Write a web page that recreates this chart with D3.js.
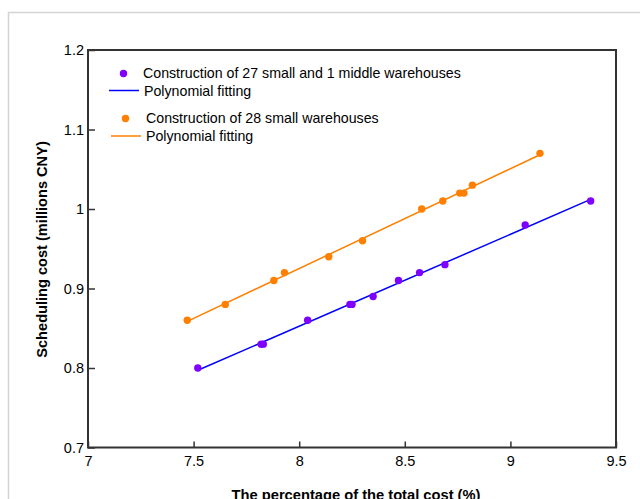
<!DOCTYPE html>
<html>
<head>
<meta charset="utf-8">
<script src="https://cdn.jsdelivr.net/npm/d3@7"></script>
<style>
body { margin: 0; background: #fff; }
svg { font-family: "Liberation Sans", Arial, sans-serif; }
</style>
</head>
<body>
<svg id="chart" width="640" height="499"></svg>
<script>
// data
mixed_x = [7.52, 7.82, 7.83, 8.04, 8.24, 8.25, 8.35, 8.47, 8.57, 8.69, 9.07, 9.38];
mixed_y = [0.80, 0.83, 0.83, 0.86, 0.88, 0.88, 0.89, 0.91, 0.92, 0.93, 0.98, 1.01];
small_x = [7.47, 7.65, 7.88, 7.93, 8.14, 8.30, 8.58, 8.68, 8.76, 8.78, 8.82, 9.14];
small_y = [0.86, 0.88, 0.91, 0.92, 0.94, 0.96, 1.00, 1.01, 1.02, 1.02, 1.03, 1.07];
x_ticks = [7, 7.5, 8, 8.5, 9, 9.5];
y_ticks = [0.7, 0.8, 0.9, 1, 1.1, 1.2];
legend_labels = ['Construction of 27 small and 1 middle warehouses', 'Polynomial fitting',
                 'Construction of 28 small warehouses', 'Polynomial fitting'];

svg = d3.select('#chart');

// outer figure frame
svg.append('path')
    .attr('d', 'M8.5,499 V12.5 H640')
    .attr('fill', 'none')
    .attr('stroke', '#d4d4d4')
    .attr('stroke-width', 1.5);

left = 88; right = 616; top_ = 50; bottom = 447.5;

x = d3.scaleLinear().domain([7, 9.5]).range([left, right]);
y = d3.scaleLinear().domain([0.7, 1.2]).range([bottom, top_]);

// least squares line through each series
function fit(xs, ys){
    n = xs.length;
    mx = d3.mean(xs); my = d3.mean(ys);
    sxy = 0; sxx = 0;
    for(i=0;i<n;i++){
        sxy += (xs[i]-mx)*(ys[i]-my);
        sxx += (xs[i]-mx)*(xs[i]-mx);
    }
    b = sxy/sxx;
    a = my - b*mx;
    x0 = d3.min(xs); x1 = d3.max(xs);
    return [[x0, a+b*x0], [x1, a+b*x1]];
}

xAxis = svg.append('g')
    .attr('transform', `translate(0,${bottom})`)
    .call(d3.axisBottom(x).tickValues(x_ticks).tickFormat(d3.format('')).tickSizeInner(-6).tickSizeOuter(0).tickPadding(8));
yAxis = svg.append('g')
    .attr('transform', `translate(${left},0)`)
    .call(d3.axisLeft(y).tickValues(y_ticks).tickFormat(d3.format('')).tickSizeInner(-7).tickSizeOuter(0).tickPadding(4));

[xAxis, yAxis].forEach(function(ax){
    ax.select('.domain').remove();
    ax.selectAll('line').attr('stroke', '#333').attr('stroke-width', 1.5);
    ax.selectAll('text').attr('font-size', 14.5).attr('fill', '#000')
        .attr('font-family', '"Liberation Sans", Arial, sans-serif');
});

// plot box
svg.append('rect')
    .attr('x', left).attr('y', top_)
    .attr('width', right-left).attr('height', bottom-top_)
    .attr('fill', 'none')
    .attr('stroke', '#333')
    .attr('stroke-width', 2);

line = d3.line().x(d => x(d[0])).y(d => y(d[1]));

svg.append('path').datum(fit(mixed_x, mixed_y))
    .attr('d', line).attr('fill', 'none').attr('stroke', '#0000ff').attr('stroke-width', 1.5);
svg.append('path').datum(fit(small_x, small_y))
    .attr('d', line).attr('fill', 'none').attr('stroke', '#ff8000').attr('stroke-width', 1.5);

svg.append('g').selectAll('circle').data(d3.zip(mixed_x, mixed_y)).join('circle')
    .attr('cx', d => x(d[0])).attr('cy', d => y(d[1])).attr('r', 3.7).attr('fill', '#8000ff');
svg.append('g').selectAll('circle').data(d3.zip(small_x, small_y)).join('circle')
    .attr('cx', d => x(d[0])).attr('cy', d => y(d[1])).attr('r', 3.7).attr('fill', '#ff8000');

// legend
legend = svg.append('g').attr('font-size', 14.2);
legend.append('circle').attr('cx', 123.5).attr('cy', 73.5).attr('r', 3.7).attr('fill', '#8000ff');
legend.append('line').attr('x1', 109).attr('x2', 139).attr('y1', 90.5).attr('y2', 90.5)
    .attr('stroke', '#0000ff').attr('stroke-width', 1.5);
legend.append('circle').attr('cx', 125.5).attr('cy', 118.5).attr('r', 3.7).attr('fill', '#ff8000');
legend.append('line').attr('x1', 111).attr('x2', 141).attr('y1', 136).attr('y2', 136)
    .attr('stroke', '#ff8000').attr('stroke-width', 1.5);
lx = [143, 144, 146, 146];
ly = [73.5, 91, 118.5, 136.5];
legend_labels.forEach(function(t, idx){
    legend.append('text').attr('x', lx[idx]).attr('y', ly[idx]).attr('dy', '0.35em').text(t);
});

// axis titles
svg.append('text')
    .attr('x', 356).attr('y', 500)
    .attr('text-anchor', 'middle').attr('font-size', 14.7).attr('font-weight', 'bold')
    .text('The percentage of the total cost (%)');
svg.append('text')
    .attr('transform', 'translate(47,249.5) rotate(-90)')
    .attr('text-anchor', 'middle').attr('font-size', 14.6).attr('font-weight', 'bold')
    .text('Scheduling cost (millions CNY)');
</script>
</body>
</html>
